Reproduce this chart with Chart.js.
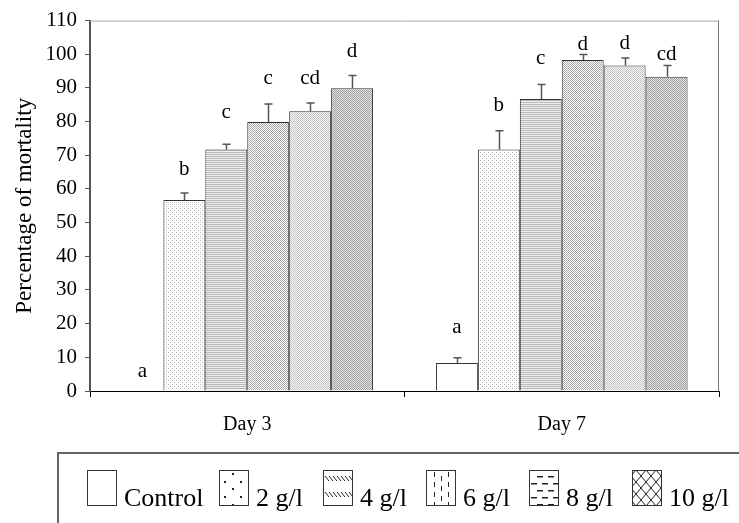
<!DOCTYPE html>
<html><head><meta charset="utf-8">
<script src="https://cdn.jsdelivr.net/npm/chart.js@4.4.1/dist/chart.umd.min.js"></script>
<style>
html,body{margin:0;padding:0;background:#fff;overflow:hidden;width:739px;height:523px;}
#wrap{position:relative;width:739px;height:523px;overflow:hidden;}
#c{position:absolute;left:0;top:0;}
#legend{position:absolute;left:57px;top:452px;width:800px;height:200px;border-top:2px solid #666;border-left:2px solid #666;box-sizing:border-box;}
.it{position:absolute;top:16px;display:flex;align-items:baseline;font-family:'Liberation Serif';font-size:26px;white-space:nowrap;color:#000;}
.it canvas{margin-right:7px;display:block;}
</style>
</head><body>
<div id="wrap">
<canvas id="c" width="739" height="523"></canvas>
<div id="legend"></div>
</div>
<script>
// ---- data ----
const categories = ['Day 3', 'Day 7'];
const seriesNames = ['Control', '2 g/l', '4 g/l', '6 g/l', '8 g/l', '10 g/l'];
const control = [0, 8.3];
const g2 = [56.7, 71.7];
const g4 = [71.7, 86.7];
const g6 = [79.9, 98.3];
const g8 = [83.1, 96.7];
const g10 = [89.9, 93.3];
const errControl = [0, 1.6];
const err2 = [2.1, 5.6];
const err4 = [1.6, 4.3];
const err6 = [5.3, 1.6];
const err8 = [2.4, 2.2];
const err10 = [3.8, 3.4];
const lettersControl = ['a', 'a'];
const letters2 = ['b', 'b'];
const letters4 = ['c', 'c'];
const letters6 = ['c', 'd'];
const letters8 = ['cd', 'd'];
const letters10 = ['d', 'cd'];
// value level (in % units) at which each significance letter sits
const letterLevelControl = [4.2, 17.1];
const letterLevel2 = [64.1, 83.1];
const letterLevel4 = [81.1, 97.0];
const letterLevel6 = [91.2, 101.2];
const letterLevel8 = [91.2, 101.7];
const letterLevel10 = [99.2, 98.2];
const yMin = 0, yMax = 110, yStep = 10;

const seriesValues = [control, g2, g4, g6, g8, g10];
const seriesErr = [errControl, err2, err4, err6, err8, err10];
const seriesLetters = [lettersControl, letters2, letters4, letters6, letters8, letters10];
const seriesLetterLevels = [letterLevelControl, letterLevel2, letterLevel4, letterLevel6, letterLevel8, letterLevel10];

const FONT = "'Liberation Serif', 'Times New Roman', serif";

// ---- patterns for bars ----
const mainCtx = document.getElementById('c').getContext('2d');
function makePattern(w, h, pixels, bg) {
  const cv = document.createElement('canvas');
  cv.width = w; cv.height = h;
  const x = cv.getContext('2d');
  x.fillStyle = bg; x.fillRect(0, 0, w, h);
  pixels.forEach(p => { x.fillStyle = p[2]; x.fillRect(p[0], p[1], 1, 1); });
  return mainCtx.createPattern(cv, 'repeat');
}
const fills = [
  '#ffffff',
  makePattern(4, 4, [[0,0,'#b4b4b4'],[2,2,'#b4b4b4'],[2,0,'#e6e6e6'],[0,2,'#e6e6e6']], '#ffffff'),
  makePattern(1, 2, [[0,0,'#b8b8b8']], '#efefef'),
  makePattern(2, 2, [[0,0,'#a8a8a8'],[1,1,'#a8a8a8']], '#ffffff'),
  makePattern(2, 2, [[0,0,'#c2c2c2'],[1,1,'#c2c2c2']], '#fafafa'),
  makePattern(2, 2, [[0,0,'#a2a2a2'],[1,1,'#a2a2a2']], '#e2e2e2')
];

// ---- plugins ----
const framePlugin = {
  id: 'frame',
  afterDraw(chart) {
    const {ctx, chartArea: a} = chart;
    ctx.save();
    ctx.lineWidth = 1;
    ctx.strokeStyle = '#aaaaaa';
    ctx.beginPath(); ctx.moveTo(a.left, a.top + 0.5); ctx.lineTo(a.right, a.top + 0.5); ctx.stroke();
    ctx.strokeStyle = '#777777';
    ctx.beginPath(); ctx.moveTo(a.right - 0.5, a.top); ctx.lineTo(a.right - 0.5, a.bottom); ctx.stroke();
    ctx.restore();
  }
};
const errLetterPlugin = {
  id: 'errLetters',
  afterDatasetsDraw(chart) {
    const ctx = chart.ctx;
    const ys = chart.scales.y;
    ctx.save();
    chart.data.datasets.forEach((ds, i) => {
      const meta = chart.getDatasetMeta(i);
      meta.data.forEach((bar, j) => {
        const e = seriesErr[i][j];
        if (e > 0) {
          const yTop = ys.getPixelForValue(seriesValues[i][j] + e);
          const x = Math.round(bar.x) + 0.5;
          ctx.strokeStyle = '#555555';
          ctx.lineWidth = 1.5;
          ctx.beginPath();
          ctx.moveTo(x, bar.y); ctx.lineTo(x, yTop);
          ctx.moveTo(x - 4, yTop); ctx.lineTo(x + 4, yTop);
          ctx.stroke();
        }
        ctx.fillStyle = '#000';
        ctx.font = '21px ' + FONT;
        ctx.textAlign = 'center';
        ctx.textBaseline = 'alphabetic';
        ctx.fillText(seriesLetters[i][j], bar.x, ys.getPixelForValue(seriesLetterLevels[i][j]));
      });
    });
    ctx.restore();
  }
};

new Chart(document.getElementById('c'), {
  type: 'bar',
  data: {
    labels: categories,
    datasets: seriesNames.map((n, i) => ({
      label: n,
      data: seriesValues[i],
      backgroundColor: fills[i],
      borderColor: '#333333',
      borderWidth: 1,
      borderSkipped: 'start',
      categoryPercentage: 0.8,
      barPercentage: 1.0
    }))
  },
  options: {
    responsive: false,
    animation: false,
    devicePixelRatio: 1,
    layout: {padding: {top: 17, right: 20, bottom: 72, left: 0}},
    plugins: {legend: {display: false}, tooltip: {enabled: false}},
    scales: {
      x: {
        offset: true,
        grid: {offset: true, drawOnChartArea: false, tickLength: 6, color: '#000', lineWidth: 1},
        border: {color: '#000', width: 1},
        ticks: {font: {family: FONT, size: 20}, color: '#000', padding: 16},
        afterFit: s => { s.height = 60; }
      },
      y: {
        min: yMin, max: yMax,
        ticks: {stepSize: yStep, font: {family: FONT, size: 21}, color: '#000', padding: 8},
        grid: {drawOnChartArea: false, tickLength: 5, color: '#555', lineWidth: 1},
        border: {color: '#555', width: 2},
        title: {display: true, text: 'Percentage of mortality', font: {family: FONT, size: 23}, color: '#000', padding: {top: 11, bottom: 0}},
        afterFit: s => { s.width = 90; }
      }
    }
  },
  plugins: [framePlugin, errLetterPlugin]
});

// ---- legend ----
function drawSwatch(x, type) {
  const W = 30, H = 36;
  x.fillStyle = '#fff'; x.fillRect(0, 0, W, H);
  x.fillStyle = '#222'; x.strokeStyle = '#222'; x.lineWidth = 1;
  if (type === 1) {
    for (let r = 0; r < 5; r++) {
      const yy = 4 + r * 7.7;
      const xs = r % 2 === 0 ? [14, 30] : [6, 22];
      xs.forEach(xx => x.fillRect(xx - 1, Math.round(yy) - 1, 2, 2));
    }
  } else if (type === 2) {
    [6, 22].forEach(y0 => {
      for (let xx = 2; xx < 28; xx += 4) {
        x.beginPath(); x.moveTo(xx, y0); x.lineTo(xx + 4, y0 + 5); x.stroke();
      }
    });
  } else if (type === 3) {
    [8, 15, 22].forEach((xx, k) => {
      for (let yy = (k % 2 ? 6 : 2); yy < 36; yy += 10) {
        x.beginPath(); x.moveTo(xx + 0.5, yy); x.lineTo(xx + 0.5, yy + 5); x.stroke();
      }
    });
  } else if (type === 4) {
    [6, 13, 20, 27, 34].forEach((yy, k) => {
      for (let xx = (k % 2 ? 2 : 8); xx < 30; xx += 11) {
        x.fillRect(xx, yy, 6, 1.5);
      }
    });
  } else if (type === 5) {
    x.lineWidth = 1;
    for (let d = -36; d < 40; d += 10) {
      x.beginPath(); x.moveTo(d, 0); x.lineTo(d + 30, 36); x.stroke();
      x.beginPath(); x.moveTo(d + 30, 0); x.lineTo(d, 36); x.stroke();
    }
  }
  x.strokeStyle = '#333'; x.lineWidth = 1;
  x.strokeRect(0.5, 0.5, W - 1, H - 1);
}
const legend = document.getElementById('legend');
const itemLeft = [28, 160, 264, 367, 470, 573];
seriesNames.forEach((n, i) => {
  const it = document.createElement('div'); it.className = 'it';
  it.style.left = itemLeft[i] + 'px';
  const cv = document.createElement('canvas'); cv.width = 30; cv.height = 36;
  drawSwatch(cv.getContext('2d'), i);
  const sp = document.createElement('span'); sp.textContent = n;
  it.appendChild(cv); it.appendChild(sp); legend.appendChild(it);
});
</script>
</body></html>
